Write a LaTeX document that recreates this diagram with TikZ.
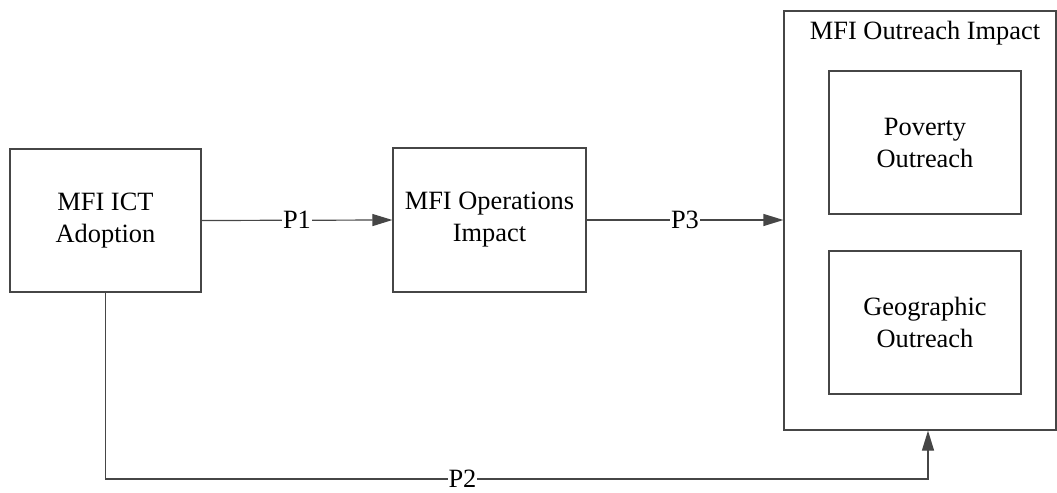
\documentclass[tikz,border=0pt]{standalone}
\usepackage{fontspec}
\setmainfont{Liberation Serif}
\usepackage{tikz}
\usetikzlibrary{arrows.meta,positioning,calc}
\definecolor{edgegray}{RGB}{70, 70, 70}

\tikzset{
  block/.style={draw=edgegray, line width=0.6pt, align=center, inner sep=0pt,
    font=\fontsize{13.2}{16}\selectfont},
  flow/.style={draw=edgegray, line width=0.6pt, -{Triangle[length=10pt,width=6pt]}},
  tag/.style={fill=white, inner sep=0.5pt, font=\fontsize{13.2}{16}\selectfont}
}

\begin{document}
\begin{tikzpicture}[x=0.5pt,y=-0.5pt]
    \useasboundingbox (0,0) rectangle (1057,493);

    % left and middle boxes
    \node[block, minimum width=95.5pt, minimum height=71.5pt] (ict) at (105.5,220.5) {MFI ICT\\Adoption};
    \node[block, minimum width=96.5pt, minimum height=72pt] (ops) at (489.5,220) {MFI Operations\\Impact};

    % outreach group with its two parts
    \node[block, minimum width=136pt, minimum height=209.5pt] (outreach) at (920,220.5) {};
    \node[font=\fontsize{13.2}{16}\selectfont] (outtitle) at (925,33) {MFI Outreach Impact};
    \node[block, minimum width=96pt, minimum height=71.5pt] (poverty) at (925,142.5) {Poverty\\Outreach};
    \node[block, minimum width=96pt, minimum height=71.5pt] (geo) at (925,322.5) {Geographic\\Outreach};

    % paths P1, P3 and P2
    \draw[flow] (ict.east) -- node[tag] {P1} (ops.west);
    \draw[flow] (ops.east) -- node[tag] {P3} (ops.east -| outreach.west);
    \coordinate (p2low) at (928,479);
    \draw[flow] (ict.south) |- node[tag, pos=0.717] {P2} (p2low) -- (outreach.south -| p2low);
\end{tikzpicture}
\end{document}
